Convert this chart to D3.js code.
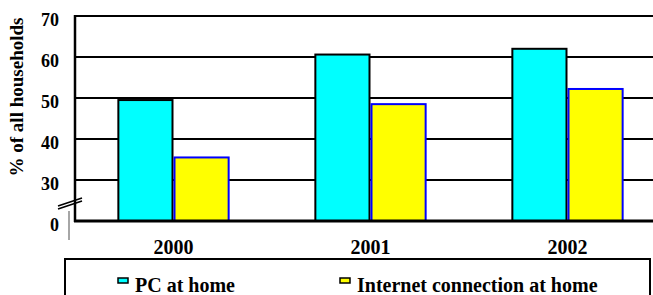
<!DOCTYPE html>
<html>
<head>
<meta charset="utf-8" />
<title>PC and internet at home</title>
<script src="https://cdn.jsdelivr.net/npm/d3@7"></script>
<style>
  body { margin: 0; background: #fff; }
  text { font-family: "Liberation Serif", "Times New Roman", serif; font-weight: bold; fill: #000; }
</style>
</head>
<body>
<div id="chart"></div>
<script>
// data
var years = ["2000", "2001", "2002"];
var pcAtHome = [49.5, 60.6, 62.0];
var netAtHome = [35.5, 48.5, 52.2];
var seriesNames = ["PC at home", "Internet connection at home"];
var yTicks = [20, 30, 40, 50, 60, 70];
var yTickLabels = ["0", "30", "40", "50", "60", "70"];

var W = 653, H = 295;
var plotLeft = 75, plotRight = 666, plotTop = 16, plotBase = 221;

var svg = d3.select("#chart").append("svg")
  .attr("width", W).attr("height", H);

var y = d3.scaleLinear().domain([20, 70]).range([plotBase, plotTop]);
var x0 = d3.scaleBand().domain(years).range([plotLeft, plotRight])
  .paddingInner(0.43).paddingOuter(0.215);
var x1 = d3.scaleBand().domain(seriesNames).range([0, x0.bandwidth()]);

// gridlines
svg.append("g").selectAll("line")
  .data(yTicks.slice(1))
  .enter().append("line")
  .attr("x1", plotLeft).attr("x2", plotRight)
  .attr("y1", function(d) { return y(d); })
  .attr("y2", function(d) { return y(d); })
  .attr("stroke", "#000").attr("stroke-width", 2);

// y tick labels
svg.append("g").selectAll("text")
  .data(yTicks)
  .enter().append("text")
  .attr("x", 59).attr("y", function(d) { return y(d) + 6; })
  .attr("text-anchor", "end").attr("dominant-baseline", "middle")
  .style("font-size", "18px")
  .text(function(d, i) { return yTickLabels[i]; });

// y title
svg.append("text")
  .attr("transform", "translate(19,97) rotate(-90)")
  .attr("text-anchor", "middle").attr("dominant-baseline", "middle")
  .style("font-size", "19px")
  .text("% of all households");

// bars
var rows = years.map(function(yr, i) {
  return { year: yr, values: [pcAtHome[i], netAtHome[i]] };
});
var fills = ["#00ffff", "#ffff00"];
var strokes = ["#000", "#0000ff"];

var groups = svg.append("g").selectAll("g")
  .data(rows)
  .enter().append("g")
  .attr("transform", function(d) { return "translate(" + x0(d.year) + ",0)"; });

groups.selectAll("rect")
  .data(function(d) { return d.values.map(function(v, j) { return { name: seriesNames[j], v: v, j: j }; }); })
  .enter().append("rect")
  .attr("x", function(d) { return x1(d.name) + 1; })
  .attr("width", x1.bandwidth() - 2)
  .attr("y", function(d) { return y(d.v); })
  .attr("height", function(d) { return plotBase - y(d.v); })
  .attr("fill", function(d) { return fills[d.j]; })
  .attr("stroke", function(d) { return strokes[d.j]; })
  .attr("stroke-width", 2);

// axes lines
svg.append("line")
  .attr("x1", plotLeft).attr("x2", plotLeft).attr("y1", plotTop - 1).attr("y2", plotBase + 1)
  .attr("stroke", "#000").attr("stroke-width", 2.5);
svg.append("line")
  .attr("x1", plotLeft - 1).attr("x2", plotRight).attr("y1", plotBase).attr("y2", plotBase)
  .attr("stroke", "#000").attr("stroke-width", 3);

// axis break marks
svg.append("line").attr("x1", 58).attr("y1", 206).attr("x2", 82).attr("y2", 198)
  .attr("stroke", "#000").attr("stroke-width", 1.5);
svg.append("line").attr("x1", 58).attr("y1", 209).attr("x2", 82).attr("y2", 201)
  .attr("stroke", "#000").attr("stroke-width", 1.5);
svg.append("line").attr("x1", 69).attr("y1", 211).attr("x2", 69).attr("y2", 240)
  .attr("stroke", "#888").attr("stroke-width", 1.5);

// x labels
svg.append("g").selectAll("text")
  .data(years)
  .enter().append("text")
  .attr("x", function(d) { return x0(d) + x0.bandwidth() / 2; })
  .attr("y", 254)
  .attr("text-anchor", "middle")
  .style("font-size", "20px")
  .text(function(d) { return d; });

// legend
svg.append("rect")
  .attr("x", 65).attr("y", 259).attr("width", 585).attr("height", 50)
  .attr("fill", "none").attr("stroke", "#000").attr("stroke-width", 2);

var legX = [118, 340];
var leg = svg.append("g").selectAll("g")
  .data(seriesNames)
  .enter().append("g")
  .attr("transform", function(d, i) { return "translate(" + legX[i] + ",0)"; });
leg.append("rect")
  .attr("x", 0).attr("y", 278).attr("width", 10).attr("height", 5)
  .attr("fill", function(d, i) { return fills[i]; })
  .attr("stroke", "#000").attr("stroke-width", 1.5);
leg.append("text")
  .attr("x", 17).attr("y", 292)
  .style("font-size", "20px")
  .text(function(d) { return d; });
</script>
</body>
</html>
